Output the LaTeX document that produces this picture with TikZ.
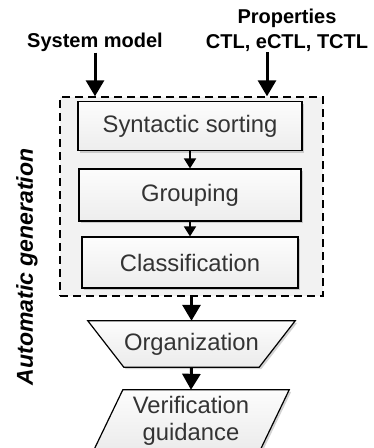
\documentclass[tikz,border=0pt]{standalone}
\usepackage{fontspec}
\setmainfont{Liberation Sans}
\usetikzlibrary{arrows.meta,shadows,backgrounds}
\definecolor{txt}{HTML}{333333}
\tikzset{
  procbox/.style={draw=black, line width=1.2pt, top color=gray!2, bottom color=gray!14,
    text=txt, font=\fontsize{23.8}{27}\selectfont, inner sep=0pt,
    drop shadow={shadow xshift=2pt, shadow yshift=-2pt, opacity=0.35, fill=gray}},
  ghost/.style={draw=none, inner sep=0pt, text=txt, font=\fontsize{23.8}{27}\selectfont, align=center},
  shapefill/.style={draw=black, line width=1.2pt, top color=gray!2, bottom color=gray!16,
    drop shadow={shadow xshift=2pt, shadow yshift=-2pt, opacity=0.35, fill=gray}},
  grpbox/.style={draw=black, dashed, dash pattern=on 8pt off 5pt, line width=1.4pt, fill=gray!10, inner sep=0pt},
  lbl/.style={font=\fontsize{20}{24.5}\selectfont\bfseries, align=center, inner sep=0pt},
  bigarrow/.style={line width=3pt, -{Triangle[width=18pt,length=16pt]}},
  smallarrow/.style={line width=1.8pt, -{Triangle[width=12pt,length=10pt]}},
}
\begin{document}
\begin{tikzpicture}[x=1pt,y=-1pt]
\useasboundingbox (0,0) rectangle (374,448);
\clip (0,0) rectangle (374,448);

\node[grpbox, minimum width=263pt, minimum height=199pt] (grp) at (191.5,196.5) {};
\node[procbox, minimum width=224pt, minimum height=49pt] (sort) at (190,126) {Syntactic sorting};
\node[procbox, minimum width=222pt, minimum height=52pt] (group) at (190,195) {Grouping};
\node[procbox, minimum width=216pt, minimum height=51pt] (cls) at (190,262.5) {Classification};

\node[ghost, minimum width=207pt, minimum height=46pt] (org) at (191.5,344) {Organization};
\node[ghost, minimum width=196pt, minimum height=62pt] (ver) at (191,421) {Verification\\guidance};
\begin{pgfonlayer}{background}
\fill[white] (0,0) rectangle (374,448);
\path[shapefill] (org.north west) -- (org.north east) -- ([xshift=-36pt]org.south east)
  -- ([xshift=36pt]org.south west) -- cycle;
\path[shapefill] ([xshift=30pt]ver.north west) -- (ver.north east) -- ([xshift=-30pt]ver.south east)
  -- (ver.south west) -- cycle;
\end{pgfonlayer}

\node[lbl] (sysm) at (95,42) {System model};
\node[lbl] (props) at (287,30.5) {Properties\\CTL, eCTL, TCTL};
\node[font=\fontsize{23}{27}\selectfont\bfseries\itshape, rotate=90, inner sep=0pt] (auto) at (27,267) {Automatic generation};

\coordinate (pin) at (267,52);
\draw[bigarrow] (sysm.south) ++(0,-1pt) -- (sysm.south |- grp.north);
\draw[bigarrow] (pin) -- (pin |- grp.north);
\draw[smallarrow] (sort.south) -- (group.north);
\draw[smallarrow] (group.south) -- (cls.north);
\draw[bigarrow] (grp.south -| org.north) -- (org.north);
\draw[bigarrow] (org.south) -- (ver.north);
\end{tikzpicture}
\end{document}
